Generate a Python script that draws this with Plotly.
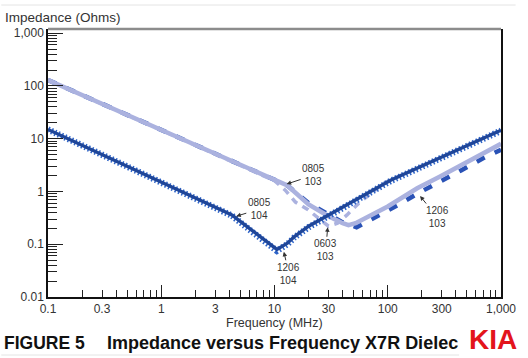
import math
import plotly.graph_objects as go

# ---------------- data ----------------
f_0805_104 = [0.1, 0.3, 1, 2, 4.2, 6, 8, 10.5, 13, 15, 20, 28, 50, 107, 287, 1000]
z_0805_104 = [15, 5.0, 1.5, 0.75, 0.36, 0.2, 0.125, 0.08, 0.105, 0.14, 0.22, 0.33, 0.66, 1.65, 4.3, 14.5]

f_1206_104 = [0.1, 0.3, 1, 2, 4.2, 6, 8, 10.5, 13, 15, 20, 28, 50, 107, 287, 1000]
z_1206_104 = [15, 5.0, 1.5, 0.75, 0.35, 0.19, 0.118, 0.075, 0.1, 0.135, 0.21, 0.32, 0.64, 1.6, 4.2, 14.2]

f_0805_103 = [0.1, 0.3, 1, 3, 10, 13, 20, 30, 40, 45, 52, 100, 182, 287, 1000]
z_0805_103 = [130, 46, 14.5, 5.1, 1.6, 1.3, 0.57, 0.34, 0.25, 0.23, 0.25, 0.52, 1.15, 1.9, 8.0]

f_0603_103 = [0.1, 0.3, 1, 3, 10, 12.5, 15.3, 19.8, 25, 30, 36, 43.7, 55.5, 93, 300, 1000]
z_0603_103 = [130, 46, 14.5, 5.1, 1.6, 1.05, 0.63, 0.45, 0.3, 0.22, 0.25, 0.36, 0.6, 1.45, 4.5, 14.5]

f_1206_103 = [0.1, 0.3, 1, 3, 10, 13, 20, 30, 40, 53, 78, 122, 186, 287, 443, 700, 1000]
z_1206_103 = [130, 46, 14.5, 5.1, 1.6, 1.3, 0.6, 0.36, 0.26, 0.21, 0.32, 0.55, 0.93, 1.5, 2.5, 4.3, 6.2]

x_tickvals = [0.1, 0.3, 1, 3, 10, 30, 100, 300, 1000]
x_ticktext = ["0.1", "0.3", "1", "3", "10", "30", "100", "300", "1,000"]
y_tickvals = [0.01, 0.1, 1, 10, 100, 1000]
y_ticktext = ["0.01", "0.1", "1", "10", "100", "1,000"]

# callout labels: text, frequency (MHz) and impedance (Ohms) the arrow points at
label_text = ["0805<br>103", "0805<br>104", "1206<br>104", "0603<br>103", "1206<br>103"]
label_freq = [12.8, 4.6, 12.1, 29.5, 193]
label_imp = [1.38, 0.34, 0.072, 0.21, 0.82]
label_offset = [(27, -9), (23, -7), (5, 22), (-2, 23), (17, 21)]

FONT = "Liberation Sans, Arial, Helvetica, sans-serif"
DARK = "#1f4699"
HATCH = "#2e64c8"
LIGHT = "#abb2df"
DDASH = "#2a52b6"

x_decades = [0.1, 1, 10, 100, 1000]
x_minor = [m * d for d in [0.1, 1, 10, 100] for m in range(2, 10) if m != 3]
y_minor = [m * d for d in [0.01, 0.1, 1, 10, 100] for m in range(2, 10)]

fig = go.Figure()

fig.add_trace(go.Scatter(x=f_1206_103, y=z_1206_103, mode="lines",
                         line=dict(color=DDASH, width=4.5, dash="9px,11px"),
                         name="1206 103", hoverinfo="skip"))
fig.add_trace(go.Scatter(x=f_0603_103, y=z_0603_103, mode="lines",
                         line=dict(color=LIGHT, width=3.5, dash="7px,6px"),
                         name="0603 103", hoverinfo="skip"))
fig.add_trace(go.Scatter(x=f_0805_103, y=z_0805_103, mode="lines",
                         line=dict(color=LIGHT, width=4.5),
                         name="0805 103", hoverinfo="skip"))
fig.add_trace(go.Scatter(x=f_1206_104, y=z_1206_104, mode="lines",
                         line=dict(color=HATCH, width=6.5, dash="1.5px,2.2px"),
                         name="1206 104", hoverinfo="skip"))
fig.add_trace(go.Scatter(x=f_0805_104, y=z_0805_104, mode="lines",
                         line=dict(color=DARK, width=3.4),
                         name="0805 104", hoverinfo="skip"))
# invisible trace to carry the overlay axis with long decade ticks
fig.add_trace(go.Scatter(x=f_0805_104, y=z_0805_104, mode="lines", xaxis="x2",
                         line=dict(width=0), opacity=0, showlegend=False,
                         hoverinfo="skip"))

axis_font = dict(family=FONT, size=12, color="#333")

fig.update_layout(
    width=528, height=358,
    margin=dict(l=48, r=15, t=29, b=61),
    paper_bgcolor="white", plot_bgcolor="white",
    showlegend=False,
    font=dict(family=FONT, color="#333"),
    xaxis=dict(type="log", range=[-1, 3], tickvals=x_tickvals, ticktext=x_ticktext,
               ticks="inside", ticklen=7, tickwidth=1, tickcolor="#222",
               minor=dict(tickvals=x_minor, ticks="inside", ticklen=7,
                          tickwidth=1, tickcolor="#222", showgrid=False),
               showgrid=False, zeroline=False, showline=True,
               linecolor="#111", linewidth=1.5, tickfont=axis_font,
               ticklabeloverflow="allow"),
    xaxis2=dict(type="log", range=[-1, 3], overlaying="x", anchor="y", side="bottom",
                tickvals=x_decades, ticks="inside", ticklen=12, tickwidth=1.2,
                tickcolor="#222", showticklabels=False, showgrid=False,
                zeroline=False, showline=False),
    yaxis=dict(type="log", range=[-2, 3.08], tickvals=y_tickvals, ticktext=y_ticktext,
               ticks="inside", ticklen=15, tickwidth=1.2, tickcolor="#222",
               minor=dict(tickvals=y_minor, ticks="inside", ticklen=9,
                          tickwidth=1, tickcolor="#222", showgrid=False),
               showgrid=False, zeroline=False, showline=True, mirror=True,
               linecolor="#111", linewidth=1.5, tickfont=axis_font),
)

# top frame line (grey)
fig.add_shape(type="line", xref="paper", yref="paper", x0=0, x1=1, y0=1, y1=1,
              line=dict(color="#8c8c8c", width=2.5))


def px_x(px):
    return (px - 48) / 465.0


def px_y(py):
    return (297 - py) / 268.0


# faint page rules from the scan
fig.add_shape(type="line", xref="paper", yref="paper", x0=px_x(0), x1=px_x(528),
              y0=px_y(5), y1=px_y(5), line=dict(color="#e4e4e4", width=1))
fig.add_shape(type="line", xref="paper", yref="paper", x0=px_x(0), x1=px_x(470),
              y0=px_y(355), y1=px_y(355), line=dict(color="#e4e4e4", width=1))

ann_font = dict(family=FONT, size=10, color="#333")
for txt, fv, zv, (ax, ay) in zip(label_text, label_freq, label_imp, label_offset):
    fig.add_annotation(x=math.log10(fv), y=math.log10(zv), xref="x", yref="y",
                       text=txt, showarrow=True, ax=ax, ay=ay,
                       arrowhead=2, arrowsize=0.9, arrowwidth=1,
                       arrowcolor="#333", standoff=0, font=ann_font,
                       align="center")

fig.add_annotation(xref="paper", yref="paper", x=px_x(2), y=px_y(17),
                   xanchor="left", yanchor="middle", showarrow=False,
                   text="Impedance (Ohms)", font=dict(family=FONT, size=13.5, color="#333"))
fig.add_annotation(xref="paper", yref="paper", x=px_x(281), y=px_y(323),
                   xanchor="center", yanchor="middle", showarrow=False,
                   text="Frequency (MHz)", font=dict(family=FONT, size=12.5, color="#333"))
fig.add_annotation(xref="paper", yref="paper", x=px_x(1), y=px_y(343),
                   xanchor="left", yanchor="middle", showarrow=False,
                   text="<b>FIGURE 5</b>", font=dict(family=FONT, size=17.5, color="#111"))
fig.add_annotation(xref="paper", yref="paper", x=px_x(106), y=px_y(343),
                   xanchor="left", yanchor="middle", showarrow=False,
                   text="<b>Impedance versus Frequency X7R Dielec</b>",
                   font=dict(family=FONT, size=18, color="#111"))
fig.add_annotation(xref="paper", yref="paper", x=px_x(531), y=px_y(339),
                   xanchor="right", yanchor="middle", showarrow=False,
                   text="<b>KIA</b>", font=dict(family=FONT, size=28, color="#e3141c"))

fig.write_html("out.html", config={"displayModeBar": False},
               post_script="document.body.style.margin='0px';document.body.style.padding='0px';")
